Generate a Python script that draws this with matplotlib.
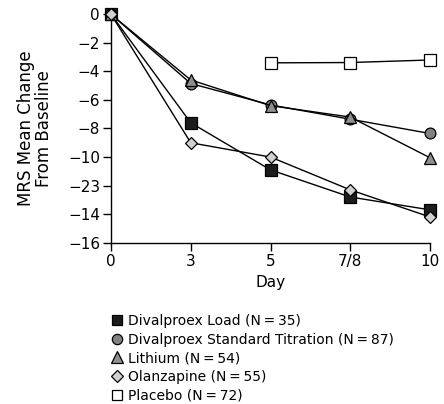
"""
MRS mean change from baseline by day, five treatment groups
"""
import matplotlib
matplotlib.use('Agg')
import matplotlib.pyplot as plt
from matplotlib.lines import Line2D

plt.rcParams['font.family'] = ['DejaVu Sans']
plt.rcParams['axes.unicode_minus'] = True

# 数据
days = ['0', '3', '5', '7/8', '10']
yticks = [0, -2, -4, -6, -8, -10, -12, -14, -16]
ytick_labels = ['0', '\u22122', '\u22124', '\u22126', '\u22128', '\u221210', '\u221223', '\u221214', '\u221216']

load = [0, -7.6, -10.9, -12.8, -13.7]
titration = [0, -4.85, -6.35, -7.35, -8.35]
lithium = [0, -4.6, -6.4, -7.2, -10.05]
olanzapine = [0, -9.0, -10.0, -12.3, -14.2]
placebo_days = [2, 3, 4]
placebo = [-3.4, -3.38, -3.2]

labels = [
    'Divalproex Load (N\u2009=\u200935)',
    'Divalproex Standard Titration (N\u2009=\u200987)',
    'Lithium (N\u2009=\u200954)',
    'Olanzapine (N\u2009=\u200955)',
    'Placebo (N\u2009=\u200972)',
]

styles = [
    dict(marker='s', color='#1c1c1c', ms=8),
    dict(marker='o', color='#828282', ms=7.8),
    dict(marker='^', color='#8e8e8e', ms=9),
    dict(marker='D', color='#d0d0d0', ms=6),
    dict(marker='s', color='white', ms=8),
]

fig = plt.figure(figsize=(4.44, 4.04), dpi=100)
ax = fig.add_axes([0.25, 0.3993, 0.7185, 0.5653])

x = list(range(len(days)))
series = [(x, load), (x, titration), (x, lithium), (x, olanzapine), (placebo_days, placebo)]
for (xs, ys), st in zip(series, styles):
    ax.plot(xs, ys, color='black', lw=1.0, marker=st['marker'], ms=st['ms'],
            markerfacecolor=st['color'], markeredgecolor='black', markeredgewidth=0.9,
            clip_on=False, zorder=3)

ax.set_xlim(0, 4)
ax.set_ylim(-16, 0)
ax.set_xticks(x)
ax.set_xticklabels(days)
ax.set_yticks(yticks)
ax.set_yticklabels(ytick_labels)
for s in ['top', 'right']:
    ax.spines[s].set_visible(False)
ax.spines['left'].set_linewidth(1.0)
ax.spines['bottom'].set_linewidth(1.0)
ax.tick_params(direction='out', length=5.5, width=1.0, labelsize=11)
ax.tick_params(axis='y', pad=2.4)
ax.tick_params(axis='x', pad=2.5)
ax.set_xlabel('Day', fontsize=11, labelpad=4.5)
ax.set_ylabel('MRS Mean Change\nFrom Baseline', fontsize=12, labelpad=11, linespacing=1.0)

handles = [Line2D([], [], linestyle='none', marker=st['marker'], ms=st['ms'] * 0.95,
                  markerfacecolor=st['color'], markeredgecolor='black', markeredgewidth=0.9)
           for st in styles]
fig.legend(handles, labels, loc='upper left', bbox_to_anchor=(0.2497, 0.223),
           frameon=False, fontsize=10, handlelength=0.85, handletextpad=0.4,
           labelspacing=0.34, borderpad=0, borderaxespad=0)

plt.savefig('out.png', dpi=100)
plt.close()
